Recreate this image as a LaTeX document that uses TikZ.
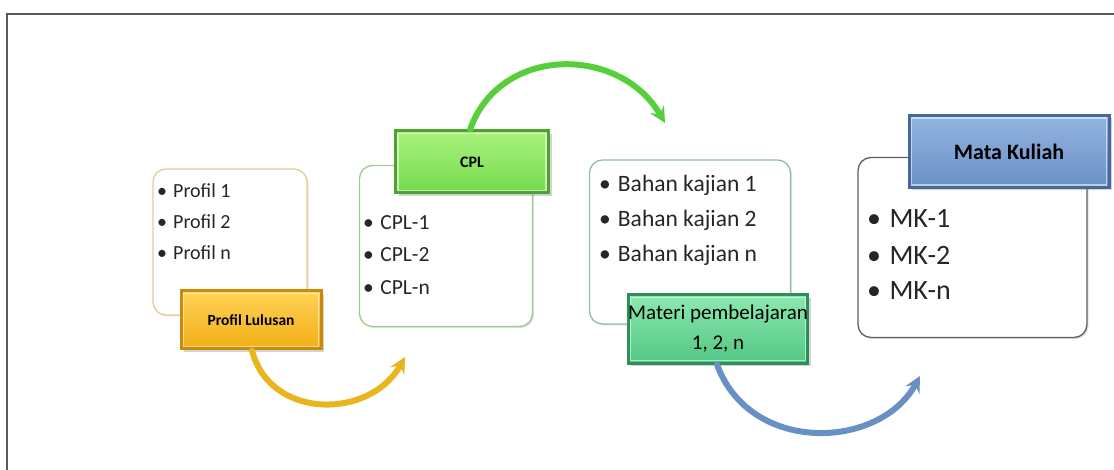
\documentclass[tikz,border=0pt]{standalone}
\usepackage{fontspec}
\setmainfont{Carlito}
\usetikzlibrary{arrows.meta,shadows}
\definecolor{goldA}{HTML}{FFD257}
\definecolor{goldB}{HTML}{F2AE16}
\definecolor{goldE}{HTML}{C98B08}
\definecolor{grnA}{HTML}{A8F27E}
\definecolor{grnB}{HTML}{74DA4A}
\definecolor{grnE}{HTML}{4FA232}
\definecolor{mntA}{HTML}{8CE8B0}
\definecolor{mntB}{HTML}{52C784}
\definecolor{mntE}{HTML}{2F8F5A}
\definecolor{bluA}{HTML}{93B4E0}
\definecolor{bluB}{HTML}{6A90C6}
\definecolor{bluE}{HTML}{44699E}
\definecolor{arrG}{HTML}{56CF3A}
\definecolor{arrY}{HTML}{E9B41C}
\definecolor{arrB}{HTML}{6890C4}
\begin{document}
\begin{tikzpicture}[x=1pt,y=-1pt,
  listbox/.style={draw=#1, line width=1.3pt, rounded corners=13pt, fill=white,
     inner sep=0pt, drop shadow={shadow xshift=1.5pt,shadow yshift=-1.5pt,opacity=0.25}},
  tag/.style n args={3}{draw=#3, line width=3pt, top color=#1, bottom color=#2,
     inner sep=0pt, align=center, text=black,
     drop shadow={shadow xshift=3pt,shadow yshift=-3pt,opacity=0.35},
     path picture={\draw[white, opacity=0.55, line width=1.2pt]
        ([shift={(2.5pt,-2.5pt)}]path picture bounding box.north west) rectangle
        ([shift={(-2.5pt,2.5pt)}]path picture bounding box.south east);}},
  item/.style={anchor=base west, inner sep=0pt, text=black!85},
  flow/.style={line width=6pt, draw=#1, line cap=round,
     -{Stealth[length=16pt,width=16pt,inset=6pt]}}
]
\useasboundingbox (0,0) rectangle (1114,470);
\draw[gray!70!black, line width=1.6pt] (7,470) -- (7,14) -- (1114,14);

% ---- box 1
\node[listbox=goldE!45, minimum width=154pt, minimum height=146pt] (b1) at (230,242) {};
\node[item, font=\fontsize{20}{24}\selectfont] (p1) at (157,198) {•\hspace{0.3em}Profil 1};
\node[item, font=\fontsize{20}{24}\selectfont] (p2) at (157,229) {•\hspace{0.3em}Profil 2};
\node[item, font=\fontsize{20}{24}\selectfont] (p3) at (157,260) {•\hspace{0.3em}Profil n};
\node[tag={goldA}{goldB}{goldE}, minimum width=140pt, minimum height=58pt,
      font=\bfseries\fontsize{15.5}{18}\selectfont] (t1) at (251,320) {Profil Lulusan};

% ---- box 2
\node[listbox=grnE!55, minimum width=173pt, minimum height=161pt] (b2) at (446,246) {};
\node[item, font=\fontsize{21.5}{26}\selectfont] (c1) at (363,230) {•\hspace{0.3em}CPL-1};
\node[item, font=\fontsize{21.5}{26}\selectfont] (c2) at (363,262) {•\hspace{0.3em}CPL-2};
\node[item, font=\fontsize{21.5}{26}\selectfont] (c3) at (363,295) {•\hspace{0.3em}CPL-n};
\node[tag={grnA}{grnB}{grnE}, minimum width=153pt, minimum height=62pt,
      font=\bfseries\fontsize{16}{18}\selectfont] (t2) at (472,162) {CPL};

% ---- box 3
\node[listbox=mntE!55, minimum width=201pt, minimum height=164pt] (b3) at (690,242) {};
\node[item, font=\fontsize{23.5}{28}\selectfont] (k1) at (599,192) {•\hspace{0.3em}Bahan kajian 1};
\node[item, font=\fontsize{23.5}{28}\selectfont] (k2) at (599,227) {•\hspace{0.3em}Bahan kajian 2};
\node[item, font=\fontsize{23.5}{28}\selectfont] (k3) at (599,262) {•\hspace{0.3em}Bahan kajian n};
\node[tag={mntA}{mntB}{mntE}, minimum width=177pt, minimum height=68pt,
      font=\fontsize{21}{30}\selectfont] (t3) at (718,329) {Materi pembelajaran\\1, 2, n};

% ---- box 4
\node[listbox=gray!75!black, minimum width=229pt, minimum height=180pt] (b4) at (972.5,247.5) {};
\node[item, font=\fontsize{28}{32}\selectfont] (m1) at (867,228) {•\hspace{0.3em}MK-1};
\node[item, font=\fontsize{28}{32}\selectfont] (m2) at (867,265) {•\hspace{0.3em}MK-2};
\node[item, font=\fontsize{28}{32}\selectfont] (m3) at (867,300) {•\hspace{0.3em}MK-n};
\node[tag={bluA}{bluB}{bluE}, minimum width=200pt, minimum height=72pt,
      font=\bfseries\fontsize{22}{26}\selectfont] (t4) at (1009,151.5) {Mata Kuliah};

% ---- arrows
\coordinate (e1) at (405,357);
\coordinate (e2) at (665,123);
\coordinate (e3) at (920,376);
\draw[flow=arrY] ([xshift=1pt]t1.south) .. controls (270,420) and (370,420) .. (e1);
\draw[flow=arrG] ([xshift=-2pt]t2.north) .. controls (500,45) and (620,45) .. (e2);
\draw[flow=arrB] ([xshift=-1pt]t3.south) .. controls (750,455) and (880,450) .. (e3);
\end{tikzpicture}
\end{document}
